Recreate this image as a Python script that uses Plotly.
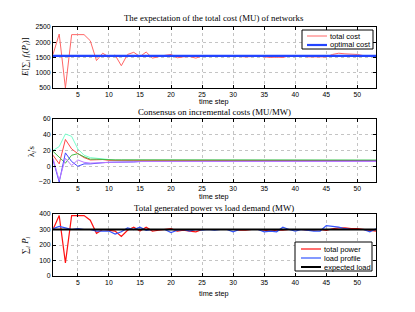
import plotly.graph_objects as go

steps = list(range(1, 54))

total_cost = [1600, 2270, 500, 2250, 2250, 2250, 2050, 1400, 1640, 1520,
              1580, 1230, 1600, 1670, 1530, 1680, 1480, 1530, 1570, 1600,
              1490, 1520, 1530, 1480, 1550, 1560, 1550, 1550, 1560, 1550,
              1520, 1520, 1530, 1550, 1520, 1500, 1510, 1500, 1550, 1560,
              1550, 1520, 1520, 1530, 1520, 1600, 1640, 1620, 1610, 1600,
              1560, 1560, 1520]
optimal_cost = [1550] * 53

lam_cyan = [20, 25, 41, 38, 22, 14, 11, 10, 9, 8.5, 8, 8, 8, 8, 8, 8, 7.8, 7.8, 7.8, 7.7,
            7.7, 7.6, 7.6, 7.6, 7.6, 7.5, 7.5, 7.5, 7.5, 7.5, 7.5, 7.5, 7.5, 7.5, 7.5, 7.5,
            7.5, 7.5, 7.5, 7.5, 7.5, 7.5, 7.5, 7.5, 7.5, 7.5, 7.5, 7.5, 7.5, 7.5, 7.5, 7.5, 7.5]
lam_red = [14, 3, 34, 22, 16, 11, 8, 8, 8.5, 7.5, 7.5, 7.5, 8, 8, 7.5, 7.5, 7.5, 7.5, 7.5, 7.5,
           7.5, 7.5, 7.5, 7.5, 7.5, 7.3, 7.3, 7.3, 7.3, 7.3, 7.3, 7.3, 7.3, 7.3, 7.3, 7.3,
           7.3, 7.3, 7.3, 7.3, 7.3, 7.3, 7.3, 7.3, 7.3, 7.3, 7.3, 7.3, 7.3, 7.3, 7.3, 7.3, 7.3]
lam_green = [19, 12, 4, 14, 16, 12, 9, 9, 8.5, 8, 8, 8, 8, 8, 8, 7.8, 7.8, 7.8, 7.8, 7.8,
             7.8, 7.8, 7.8, 7.8, 7.8, 7.8, 7.8, 7.8, 7.8, 7.8, 7.8, 7.8, 7.8, 7.8, 7.8, 7.8,
             7.8, 7.8, 7.8, 7.8, 7.8, 7.8, 7.8, 7.8, 7.8, 7.8, 7.8, 7.8, 7.8, 7.8, 7.8, 7.8, 7.8]
lam_blue = [8, -20, 17, 6, 0, 3, 3, 4, 4.5, 5, 5, 5, 5, 5.5, 6, 6, 6, 6, 6, 6,
            6, 6, 6, 6, 6.2, 6.2, 6.2, 6.2, 6.2, 6.2, 6.2, 6.2, 6.2, 6.2, 6.2, 6.2,
            6.2, 6.2, 6.2, 6.2, 6.2, 6.2, 6.2, 6.2, 6.2, 6.5, 6.5, 6.5, 6.5, 6.5, 6.5, 6.5, 6.5]
lam_purple = [10, -18, 10, 1, 8, 5, 4, 4, 4.5, 5, 5, 5, 5.5, 5.5, 6, 6, 6, 6, 6, 6,
              6, 6, 6, 6, 6, 6, 6, 6, 6, 6, 6, 6, 6, 6, 6, 6,
              6, 6, 6, 6, 6, 6, 6, 6, 6, 6, 6, 6, 6, 6, 6, 6, 6]

total_power = [300, 390, 85, 390, 390, 390, 360, 275, 300, 295,
               290, 255, 295, 315, 290, 315, 290, 295, 300, 305,
               290, 295, 290, 285, 300, 300, 300, 300, 300, 300,
               295, 295, 300, 300, 295, 290, 295, 295, 300, 300,
               300, 295, 295, 300, 295, 305, 310, 310, 305, 305,
               300, 295, 290]
load_profile = [305, 320, 310, 300, 305, 300, 300, 290, 290, 290,
                270, 285, 310, 300, 315, 295, 300, 300, 300, 280,
                295, 300, 290, 300, 295, 300, 295, 300, 300, 285,
                300, 300, 300, 300, 285, 290, 285, 315, 300, 290,
                300, 295, 290, 290, 325, 320, 315, 305, 300, 300,
                300, 285, 305]
expected_load = [300] * 53

W, H = 415, 312
def px(x):
    return x / W
def py(y):
    return 1 - y / H

c_total_cost = "#ff6666"
c_opt = "#2244ff"
c_power = "#ff1111"
c_load = "#3355ff"
c_exp = "black"

fig = go.Figure()
fig.add_trace(go.Scatter(x=steps, y=total_cost, mode="lines", name="total cost",
                         line=dict(color=c_total_cost, width=1), xaxis="x", yaxis="y"))
fig.add_trace(go.Scatter(x=steps, y=optimal_cost, mode="lines", name="optimal cost",
                         line=dict(color=c_opt, width=2.2), xaxis="x", yaxis="y"))
for ys, c in [(lam_cyan, "#77ffcc"), (lam_red, "#ff4444"), (lam_green, "#44bb44"),
              (lam_blue, "#4444ff"), (lam_purple, "#bb77ff")]:
    fig.add_trace(go.Scatter(x=steps, y=ys, mode="lines", line=dict(color=c, width=1),
                             xaxis="x2", yaxis="y2"))
fig.add_trace(go.Scatter(x=steps, y=total_power, mode="lines", name="total power",
                         line=dict(color=c_power, width=1.2), xaxis="x3", yaxis="y3"))
fig.add_trace(go.Scatter(x=steps, y=load_profile, mode="lines", name="load profile",
                         line=dict(color=c_load, width=1.2), xaxis="x3", yaxis="y3"))
fig.add_trace(go.Scatter(x=steps, y=expected_load, mode="lines", name="expected load",
                         line=dict(color=c_exp, width=2), xaxis="x3", yaxis="y3"))

xd = [px(53), px(376)]
doms = [[py(88), py(27)], [py(182), py(119)], [py(276), py(214)]]
tickfont = dict(family="Liberation Sans, Arial", size=6.8, color="black")
common_ax = dict(showline=True, linecolor="black", linewidth=1, mirror="ticks", ticks="inside",
                 ticklen=3, tickcolor="black", showgrid=True, gridcolor="#c4c4c4", griddash="dot",
                 gridwidth=1, zeroline=False, tickfont=tickfont, automargin=False)
xaxis_common = dict(common_ax, range=[1, 53], tickvals=[5, 10, 15, 20, 25, 30, 35, 40, 45, 50])
yranges = [[500, 2500], [-20, 60], [0, 400]]
ytick = [[500, 1000, 1500, 2000, 2500], [-20, 0, 20, 40, 60], [0, 100, 200, 300, 400]]

layout = dict(width=W, height=H, margin=dict(l=0, r=0, t=0, b=0, pad=0), autosize=False,
              paper_bgcolor="white", plot_bgcolor="white", showlegend=False)
for i in range(3):
    sx = "" if i == 0 else str(i + 1)
    layout["xaxis" + sx] = dict(xaxis_common, domain=xd, anchor="y" + sx)
    layout["yaxis" + sx] = dict(common_ax, domain=doms[i], range=yranges[i], tickvals=ytick[i],
                                anchor="x" + sx)
fig.update_layout(**layout)

serif = dict(family="Liberation Serif", size=8.8, color="black")
sans = dict(family="Liberation Sans, Arial", size=7.3, color="black")
ann = []
shapes = []
titles = [("The expectation of the total cost (MU) of networks", 18),
          ("Consensus on incremental costs (MU/MW)", 112),
          ("Total generated power vs load demand (MW)", 207.5)]
for t, yp in titles:
    ann.append(dict(text=t, x=px(214.5), y=py(yp), xref="paper", yref="paper",
                    showarrow=False, font=serif, xanchor="center", yanchor="middle"))
for yp in [102, 196.5, 293]:
    ann.append(dict(text="time step", x=px(214.5), y=py(yp), xref="paper", yref="paper",
                    showarrow=False, font=sans, xanchor="center", yanchor="middle"))
ylabels = [("<i>E</i>[∑<sub><i>i</i></sub> <i>f<sub>i</sub></i>(<i>P<sub>i</sub></i>)]", 25, 57),
           ("λ<sub><i>i</i></sub>'s", 31, 151),
           ("∑<sub><i>i</i></sub> <i>P<sub>i</sub></i>", 25, 245)]
for t, xp, yp in ylabels:
    ann.append(dict(text=t, x=px(xp), y=py(yp), xref="paper", yref="paper", textangle=-90,
                    showarrow=False, font=serif, xanchor="center", yanchor="middle"))

# compact MATLAB-style legend boxes
legend_font = dict(family="Liberation Sans, Arial", size=7.5, color="black")
def add_legend(box, entries, line_x0, line_x1, text_x):
    x0, y0, x1, y1 = box
    shapes.append(dict(type="rect", xref="paper", yref="paper", x0=px(x0), x1=px(x1),
                       y0=py(y1), y1=py(y0), fillcolor="white",
                       line=dict(color="black", width=1), layer="above"))
    for name, color, width, yy in entries:
        shapes.append(dict(type="line", xref="paper", yref="paper", x0=px(line_x0), x1=px(line_x1),
                           y0=py(yy), y1=py(yy), line=dict(color=color, width=width), layer="above"))
        ann.append(dict(text=name, x=px(text_x), y=py(yy), xref="paper", yref="paper",
                        showarrow=False, font=legend_font, xanchor="left", yanchor="middle"))

add_legend((302, 30, 373, 49), [("total cost", c_total_cost, 1, 36),
                                ("optimal cost", c_opt, 2.2, 45)], 307, 327, 328)
add_legend((295, 242, 372, 271), [("total power", c_power, 1.2, 249),
                                  ("load profile", c_load, 1.2, 258),
                                  ("expected load", c_exp, 2, 267)], 301, 321, 322)

fig.update_layout(annotations=ann, shapes=shapes)

fig.write_html("out.html", config={"displayModeBar": False},
               post_script="document.body.style.margin='0';document.body.style.overflow='hidden';")
